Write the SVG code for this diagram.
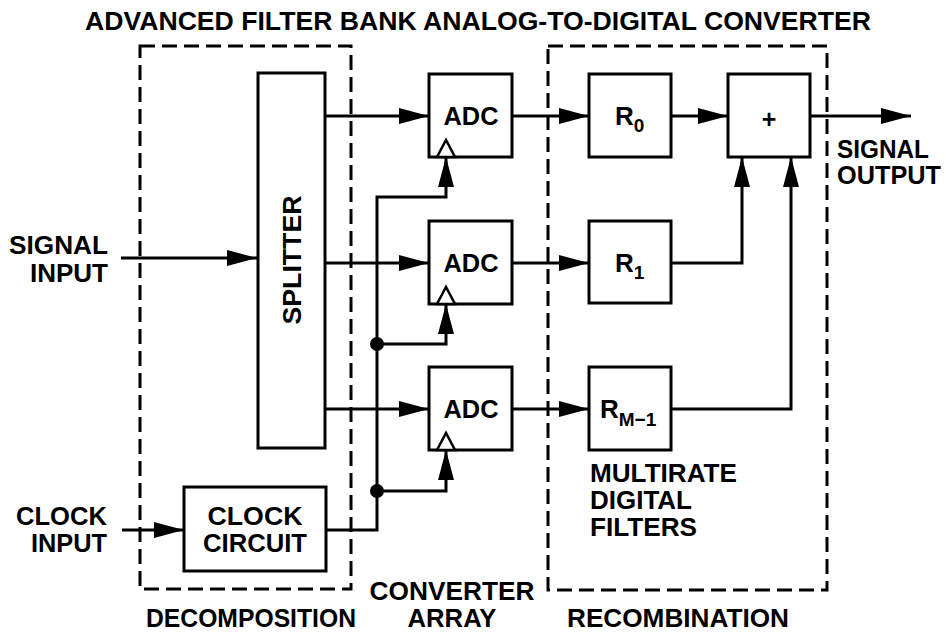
<svg xmlns="http://www.w3.org/2000/svg" width="946" height="633" viewBox="0 0 946 633">
<style>
text{font-family:"Liberation Sans",Arial,sans-serif;font-weight:bold;font-size:25px;fill:#000}
.box{fill:#fff;stroke:#000;stroke-width:3}
.dash{fill:none;stroke:#000;stroke-width:3;stroke-dasharray:15 7}
.wire{fill:none;stroke:#000;stroke-width:3}
.arr{marker-end:url(#ah)}
.rl{font-size:26px}
.sub{font-size:19px}
.mid{text-anchor:middle}
.end{text-anchor:end}
</style>
<defs>
<marker id="ah" markerUnits="userSpaceOnUse" viewBox="0 0 30 16" refX="30" refY="8" markerWidth="30" markerHeight="16" orient="auto">
<path d="M0,0 L30,8 L0,16 z" fill="#000"/>
</marker>
</defs>
<rect width="946" height="633" fill="#fff"/>
<text id="title" x="85" y="30" textLength="786" lengthAdjust="spacingAndGlyphs">ADVANCED FILTER BANK ANALOG-TO-DIGITAL CONVERTER</text>

<g id="decomposition">
<rect class="dash" x="140" y="46" width="211" height="543"/>
<text x="251" y="627" class="mid" textLength="210" lengthAdjust="spacingAndGlyphs">DECOMPOSITION</text>
</g>
<g id="recombination">
<rect class="dash" x="548" y="46" width="279" height="544"/>
<text x="678" y="627" class="mid" textLength="222" lengthAdjust="spacingAndGlyphs">RECOMBINATION</text>
</g>
<g id="converter-array-label">
<text x="452" y="600" class="mid" textLength="165" lengthAdjust="spacingAndGlyphs">CONVERTER</text>
<text x="452" y="627" class="mid" textLength="89" lengthAdjust="spacingAndGlyphs">ARRAY</text>
</g>

<g id="connectors">
<line class="wire arr" x1="121" y1="258" x2="257" y2="258"/>
<line class="wire arr" x1="122" y1="530" x2="184" y2="530"/>
<line class="wire arr" x1="325" y1="116" x2="429" y2="116"/>
<line class="wire arr" x1="325" y1="263" x2="429" y2="263"/>
<line class="wire arr" x1="325" y1="409" x2="429" y2="409"/>
<line class="wire arr" x1="512" y1="116" x2="589" y2="116"/>
<line class="wire arr" x1="512" y1="263" x2="589" y2="263"/>
<line class="wire arr" x1="512" y1="409" x2="589" y2="409"/>
<line class="wire arr" x1="671" y1="116" x2="728" y2="116"/>
<line class="wire arr" x1="810" y1="116" x2="911" y2="116"/>
<path class="wire arr" d="M671,263 H742 V157"/>
<path class="wire arr" d="M671,409 H791 V157"/>
<path class="wire arr" d="M326,530 H377 V197 H446 V157"/>
<path class="wire arr" d="M377,344 H446 V304"/>
<path class="wire arr" d="M377,491 H446 V450"/>
<circle cx="377" cy="344" r="7" fill="#000"/>
<circle cx="377" cy="491" r="7" fill="#000"/>
</g>

<g id="signal-input">
<text x="108" y="254" class="end" textLength="99" lengthAdjust="spacingAndGlyphs">SIGNAL</text>
<text x="108" y="282" class="end" textLength="78" lengthAdjust="spacingAndGlyphs">INPUT</text>
</g>
<g id="clock-input">
<text x="107" y="525" class="end" textLength="91" lengthAdjust="spacingAndGlyphs">CLOCK</text>
<text x="107" y="552" class="end" textLength="76" lengthAdjust="spacingAndGlyphs">INPUT</text>
</g>
<g id="signal-output">
<text x="837" y="158" textLength="92" lengthAdjust="spacingAndGlyphs">SIGNAL</text>
<text x="837" y="184" textLength="104" lengthAdjust="spacingAndGlyphs">OUTPUT</text>
</g>

<g id="splitter">
<rect class="box" x="258" y="73" width="67" height="375"/>
<text transform="translate(301,260) rotate(-90)" class="mid" textLength="129" lengthAdjust="spacingAndGlyphs">SPLITTER</text>
</g>
<g id="clock-circuit">
<rect class="box" x="184" y="487" width="142" height="84"/>
<text x="255" y="525" class="mid" textLength="95" lengthAdjust="spacingAndGlyphs">CLOCK</text>
<text x="255" y="552" class="mid" textLength="104" lengthAdjust="spacingAndGlyphs">CIRCUIT</text>
</g>

<g id="adc0">
<rect class="box" x="429" y="74" width="83" height="83"/>
<polygon points="437,157 446,140 455,157" fill="#fff" stroke="#000" stroke-width="2.5"/>
<text x="471" y="125" class="mid" textLength="55" lengthAdjust="spacingAndGlyphs">ADC</text>
</g>
<g id="adc1">
<rect class="box" x="429" y="221" width="83" height="83"/>
<polygon points="437,304 446,287 455,304" fill="#fff" stroke="#000" stroke-width="2.5"/>
<text x="471" y="272" class="mid" textLength="55" lengthAdjust="spacingAndGlyphs">ADC</text>
</g>
<g id="adc2">
<rect class="box" x="429" y="367" width="83" height="83"/>
<polygon points="437,450 446,433 455,450" fill="#fff" stroke="#000" stroke-width="2.5"/>
<text x="471" y="418" class="mid" textLength="55" lengthAdjust="spacingAndGlyphs">ADC</text>
</g>

<g id="r0">
<rect class="box" x="589" y="74" width="82" height="83"/>
<text x="615" y="125" class="rl">R<tspan class="sub" dy="7">0</tspan></text>
</g>
<g id="r1">
<rect class="box" x="589" y="221" width="82" height="82"/>
<text x="615" y="272" class="rl">R<tspan class="sub" dy="7">1</tspan></text>
</g>
<g id="rm1">
<rect class="box" x="589" y="367" width="82" height="83"/>
<text x="600" y="418" class="rl">R<tspan class="sub" dy="8">M−1</tspan></text>
</g>
<g id="sum">
<rect class="box" x="728" y="74" width="82" height="83"/>
<text x="769" y="128" class="mid">+</text>
</g>
<g id="multirate-label">
<text x="590" y="482" textLength="147" lengthAdjust="spacingAndGlyphs">MULTIRATE</text>
<text x="590" y="509" textLength="102" lengthAdjust="spacingAndGlyphs">DIGITAL</text>
<text x="590" y="536" textLength="107" lengthAdjust="spacingAndGlyphs">FILTERS</text>
</g>
</svg>
